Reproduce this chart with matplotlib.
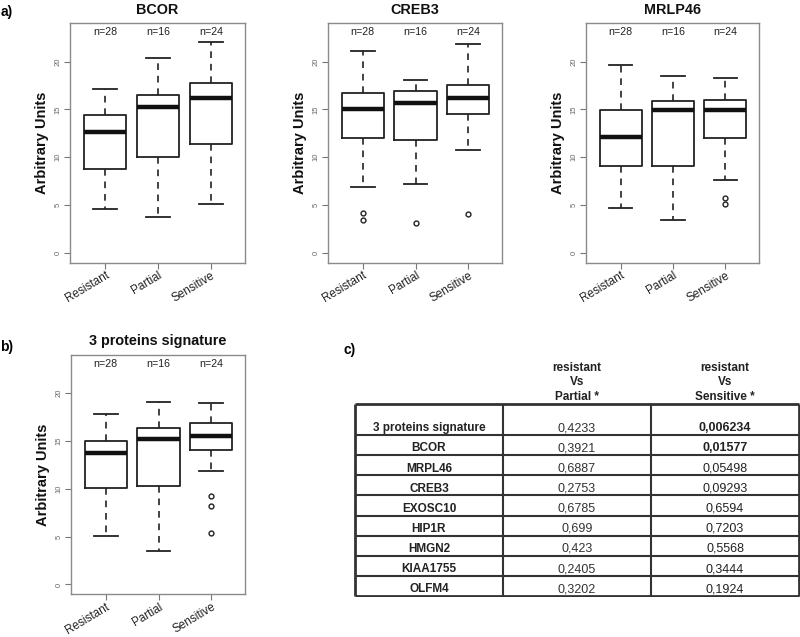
import matplotlib
matplotlib.use("Agg")
import matplotlib.pyplot as plt

plt.rcParams['font.family'] = ['Liberation Sans', 'DejaVu Sans']

# groups and sample sizes
groups = ['Resistant', 'Partial', 'Sensitive']
n_labels = ['n=28', 'n=16', 'n=24']

# box statistics (whisker low, Q1, median, Q3, whisker high, outliers)
bcor_low = [4.57, 3.79, 5.12]
bcor_q1 = [8.78, 10.03, 11.39]
bcor_med = [12.64, 15.22, 16.2]
bcor_q3 = [14.39, 16.48, 17.73]
bcor_high = [17.17, 20.4, 22.08]
bcor_out = [[], [], []]

creb3_low = [6.86, 7.21, 10.76]
creb3_q1 = [12.05, 11.81, 14.52]
creb3_med = [15.02, 15.64, 16.23]
creb3_q3 = [16.69, 16.96, 17.59]
creb3_high = [21.1, 18.08, 21.8]
creb3_out = [[4.21, 3.45], [3.1], [4.08]]

mrlp46_low = [4.66, 3.4, 7.6]
mrlp46_q1 = [9.1, 9.1, 12.04]
mrlp46_med = [12.1, 14.97, 14.9]
mrlp46_q3 = [14.97, 15.88, 16.0]
mrlp46_high = [19.6, 18.5, 18.3]
mrlp46_out = [[], [], [5.8, 5.1]]

sig_low = [5.04, 3.5, 11.89]
sig_q1 = [10.04, 10.3, 14.03]
sig_med = [13.74, 15.25, 15.53]
sig_q3 = [15.0, 16.37, 16.86]
sig_high = [17.8, 19.1, 18.96]
sig_out = [[], [], [9.27, 8.22, 5.38]]

# table of p-values
table_rows = ['3 proteins signature', 'BCOR', 'MRPL46', 'CREB3', 'EXOSC10',
              'HIP1R', 'HMGN2', 'KIAA1755', 'OLFM4']
p_partial = ['0,4233', '0,3921', '0,6887', '0,2753', '0,6785', '0,699',
             '0,423', '0,2405', '0,3202']
p_sensitive = ['0,006234', '0,01577', '0,05498', '0,09293', '0,6594',
               '0,7203', '0,5568', '0,3444', '0,1924']
p_sensitive_bold = [True, True, False, False, False, False, False, False, False]
table_headers = ['resistant\nVs\nPartial *', 'resistant\nVs\nSensitive *']

W, H = 800, 637
fig = plt.figure(figsize=(W / 100, H / 100), dpi=100)


def px_rect(x0, y0, x1, y1):
    return [x0 / W, 1 - y1 / H, (x1 - x0) / W, (y1 - y0) / H]


def boxpanel(rect, title, low, q1, med, q3, high, out):
    ax = fig.add_axes(rect)
    stats = []
    for i in range(len(groups)):
        stats.append({'whislo': low[i], 'q1': q1[i], 'med': med[i], 'q3': q3[i],
                      'whishi': high[i], 'fliers': out[i], 'label': groups[i]})
    ax.bxp(stats, positions=[1, 2, 3], widths=0.8, capwidths=0.45,
           boxprops=dict(color='#222222', linewidth=1.3),
           medianprops=dict(color='#111111', linewidth=3.2, solid_capstyle='butt'),
           whiskerprops=dict(color='#222222', linewidth=1.2, linestyle=(0, (4, 3.5))),
           capprops=dict(color='#222222', linewidth=1.3),
           flierprops=dict(marker='o', markerfacecolor='none', markeredgecolor='#222222',
                           markersize=3.5, markeredgewidth=1.0))
    ax.set_xlim(0.34, 3.64)
    ax.set_ylim(-1.0, 24.0)
    ax.set_yticks([0, 5, 10, 15, 20])
    ax.set_yticklabels(['0', '5', '10', '15', '20'], rotation=90, va='center',
                       fontsize=5.5, color='#666666')
    ax.set_xticks([1, 2, 3])
    ax.set_xticklabels(groups, rotation=31, ha='right', rotation_mode='anchor',
                       fontsize=8.5, color='#222222')
    ax.tick_params(axis='both', colors='#777777', length=4, width=0.8)
    ax.tick_params(axis='x', labelcolor='#222222', pad=1)
    ax.tick_params(axis='y', labelcolor='#666666', pad=2)
    for s in ax.spines.values():
        s.set_color('#8a8a8a')
        s.set_linewidth(1.0)
    for i, t in enumerate(n_labels):
        ax.text(i + 1, 23.1, t, ha='center', va='center', fontsize=7.7, color='#222222')
    ax.set_title(title, fontsize=10.4, fontweight='bold', pad=7, color='#111111')
    ax.set_ylabel('Arbitrary Units', fontsize=10.5, fontweight='bold', labelpad=4,
                  color='#111111')
    return ax


boxpanel(px_rect(70, 23.3, 245, 262.6), 'BCOR',
         bcor_low, bcor_q1, bcor_med, bcor_q3, bcor_high, bcor_out)
boxpanel(px_rect(328, 23.3, 502, 262.6), 'CREB3',
         creb3_low, creb3_q1, creb3_med, creb3_q3, creb3_high, creb3_out)
boxpanel(px_rect(586, 23.3, 759, 262.6), 'MRLP46',
         mrlp46_low, mrlp46_q1, mrlp46_med, mrlp46_q3, mrlp46_high, mrlp46_out)
boxpanel(px_rect(71, 355, 245, 594), '3 proteins signature',
         sig_low, sig_q1, sig_med, sig_q3, sig_high, sig_out)

fig.text(0.5 / W, 1 - 12 / H, 'a)', fontsize=10, fontweight='bold', va='center')
fig.text(0.5 / W, 1 - 347 / H, 'b)', fontsize=10, fontweight='bold', va='center')
fig.text(344 / W, 1 - 350 / H, 'c)', fontsize=10, fontweight='bold', va='center')

# table panel
tax = fig.add_axes(px_rect(353, 355, 801, 597))
tax.set_xlim(-0.0135, 3.0135)
tax.set_ylim(9.6, -2.44)
tax.axis('off')
row_h = [1.55] + [1.0] * (len(table_rows) - 1)
edges = [0.0]
for h in row_h:
    edges.append(edges[-1] + h)
tax.hlines(edges[1:-1], 0, 3, color='#333333', linewidth=1.5)
tax.hlines([edges[0], edges[-1]], 0, 3, color='#333333', linewidth=2.0)
tax.vlines([1, 2], 0, edges[-1], color='#333333', linewidth=1.5)
tax.vlines([0, 3], 0, edges[-1], color='#333333', linewidth=2.0)
for j, hdr in enumerate(table_headers):
    tax.text(j + 1.5, -1.08, hdr, ha='center', va='center', fontsize=8.5,
             fontweight='bold', linespacing=1.3, color='#222222')
for i, name in enumerate(table_rows):
    yc = edges[i + 1] - 0.34
    tax.text(0.5, yc, name, ha='center', va='center', fontsize=8.5,
             fontweight='bold', color='#222222')
    tax.text(1.5, yc, p_partial[i], ha='center', va='center', fontsize=9,
             color='#333333')
    tax.text(2.5, yc, p_sensitive[i], ha='center', va='center', fontsize=9,
             fontweight='bold' if p_sensitive_bold[i] else 'normal', color='#222222')

fig.savefig('out.png', dpi=100)
